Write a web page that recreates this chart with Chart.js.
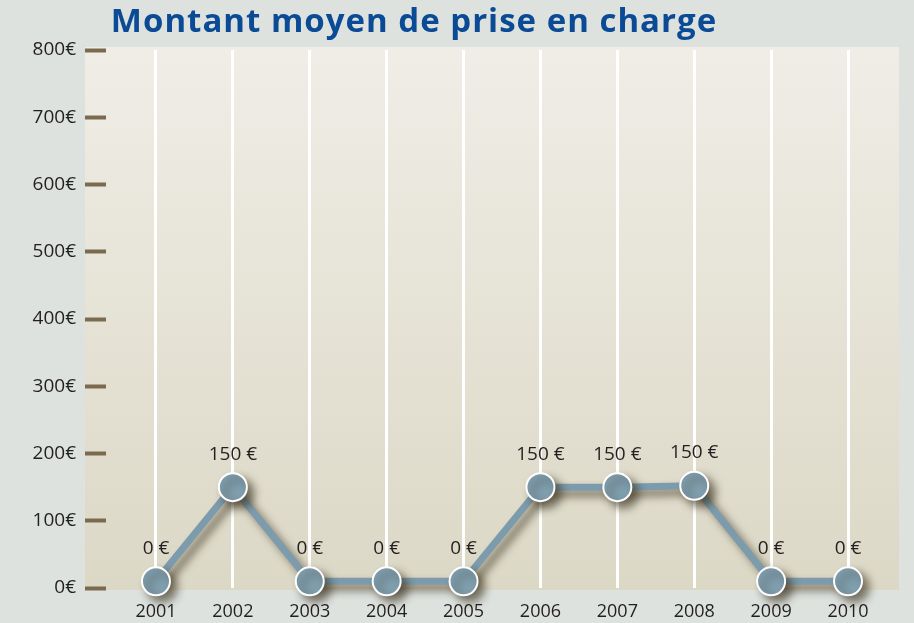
<!DOCTYPE html>
<html lang="fr">
<head>
<meta charset="UTF-8">
<title>Montant moyen de prise en charge</title>
<script src="https://cdn.jsdelivr.net/npm/chart.js"></script>
<style>
  html, body { margin: 0; padding: 0; background: #dde2df; }
  #wrap { width: 914px; height: 623px; }
</style>
</head>
<body>
<div id="wrap"><canvas id="chart"></canvas></div>
<script>
// data
const years = [2001, 2002, 2003, 2004, 2005, 2006, 2007, 2008, 2009, 2010];
const amounts = [10, 150, 10, 10, 10, 150, 150, 152, 10, 10];
const amountLabels = ['0 €', '150 €', '0 €', '0 €', '0 €', '150 €', '150 €', '150 €', '0 €', '0 €'];
const yTicks = [0, 100, 200, 300, 400, 500, 600, 700, 800];
const chartTitle = 'Montant moyen de prise en charge';

const FONT = "'Open Sans', 'Noto Sans', sans-serif";

const backdrop = {
  id: 'backdrop',
  beforeDraw(chart) {
    const { ctx, chartArea: a } = chart;
    ctx.save();
    ctx.fillStyle = '#dde2df';
    ctx.fillRect(0, 0, chart.width, chart.height);
    const g = ctx.createLinearGradient(0, a.top, 0, a.bottom);
    g.addColorStop(0, '#efede6');
    g.addColorStop(1, '#dcd8c6');
    ctx.fillStyle = g;
    ctx.fillRect(a.left - 21, a.top - 3, a.right - a.left + 22, a.bottom - a.top + 5);
    ctx.restore();
  },
  afterDraw(chart) {
    const ctx = chart.ctx;
    ctx.save();
    ctx.font = "bold 33px " + FONT;
    ctx.letterSpacing = '1px';
    ctx.fillStyle = '#0b4b96';
    ctx.textAlign = 'center';
    ctx.textBaseline = 'middle';
    ctx.fillText(chartTitle, 414, 23);
    ctx.restore();
  }
};

const shadow = {
  id: 'shadow',
  beforeDatasetDraw(chart) {
    const ctx = chart.ctx;
    ctx.save();
    ctx.shadowColor = 'rgba(50, 40, 20, 0.6)';
    ctx.shadowBlur = 9;
    ctx.shadowOffsetX = 6;
    ctx.shadowOffsetY = 6;
  },
  afterDatasetDraw(chart) {
    chart.ctx.restore();
  }
};

const valueLabels = {
  id: 'valueLabels',
  afterDatasetsDraw(chart) {
    const ctx = chart.ctx;
    const meta = chart.getDatasetMeta(0);
    ctx.save();
    ctx.font = "19px " + FONT;
    ctx.fillStyle = '#231f20';
    ctx.textAlign = 'center';
    ctx.textBaseline = 'middle';
    meta.data.forEach((pt, i) => {
      ctx.fillText(amountLabels[i], pt.x, pt.y - 33);
    });
    ctx.restore();
  }
};

new Chart(document.getElementById('chart'), {
  type: 'line',
  data: {
    datasets: [{
      data: years.map((y, i) => ({ x: y, y: amounts[i] })),
      borderColor: '#7c9bac',
      borderWidth: 7,
      pointRadius: 14,
      pointHoverRadius: 14,
      pointBackgroundColor: '#7f9eae',
      pointBorderColor: '#ffffff',
      pointBorderWidth: 2,
      tension: 0,
      clip: false
    }]
  },
  options: {
    responsive: true,
    maintainAspectRatio: false,
    animation: false,
    layout: { padding: { top: 50, right: 14, left: 0, bottom: 0 } },
    plugins: {
      legend: { display: false },
      title: { display: false },
      tooltip: { enabled: false }
    },
    scales: {
      x: {
        type: 'linear',
        min: 2000.35,
        max: 2010.65,
        afterBuildTicks: s => { s.ticks = years.map(v => ({ value: v })); },
        afterFit: s => { s.height = 35; },
        grid: { color: '#ffffff', lineWidth: 3, drawTicks: false },
        border: { display: false },
        ticks: {
          padding: 13,
          color: '#231f20',
          font: { family: FONT, size: 18 },
          callback: v => String(v)
        }
      },
      y: {
        min: 0,
        max: 800,
        afterBuildTicks: s => { s.ticks = yTicks.map(v => ({ value: v })); },
        afterFit: s => { s.width = 106; },
        grid: {
          drawOnChartArea: false,
          drawTicks: true,
          tickLength: 21,
          tickWidth: 4,
          tickColor: '#7a6b50'
        },
        border: { display: false },
        ticks: {
          padding: 9,
          color: '#231f20',
          font: { family: FONT, size: 19 },
          callback: v => v + '€'
        }
      }
    }
  },
  plugins: [backdrop, shadow, valueLabels]
});
</script>
</body>
</html>
